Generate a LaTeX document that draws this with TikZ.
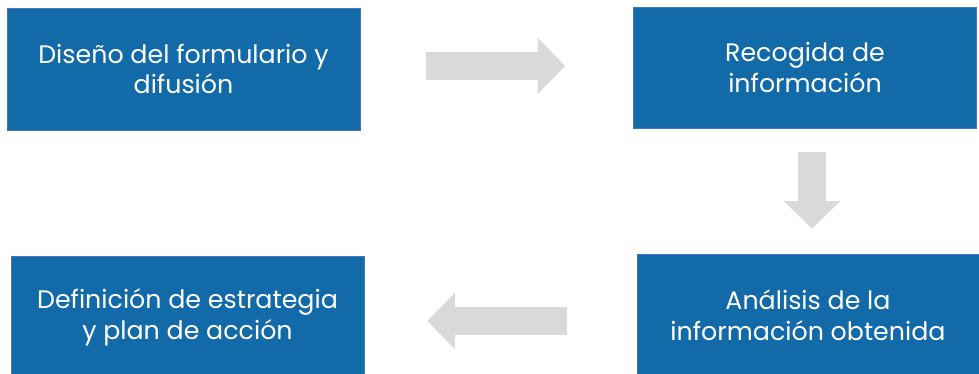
\documentclass[tikz,border=0pt]{standalone}
\usepackage{fontspec}
\setmainfont{Poppins}
\usetikzlibrary{positioning,arrows.meta,calc}
\definecolor{boxblue}{RGB}{19,106,168}
\definecolor{boxedge}{RGB}{68,114,196}
\definecolor{arrowgray}{RGB}{217,217,217}
\tikzset{
  stage/.style={fill=boxblue, draw=boxedge, line width=0.5pt, text=white,
    align=center, inner sep=0pt, font=\fontsize{14.4}{17.5}\selectfont},
  flow/.style={draw=arrowgray, line width=0.55cm,
    -{Triangle[length=0.55cm,width=1.1cm]}},
}

\begin{document}
\begin{tikzpicture}[x=0.02cm, y=-0.02cm]
\useasboundingbox (0,0) rectangle (979,374);

% the four steps
\node[stage, minimum width=7.06cm, minimum height=2.44cm] (diseno) at (183.5,69)
  {Diseño del formulario y\\difusión};
\node[stage, minimum width=6.86cm, minimum height=2.42cm] (recogida) at (805,67.5)
  {Recogida de\\información};
\node[stage, minimum width=6.84cm, minimum height=2.44cm] (analisis) at (808,315)
  {Análisis de la\\información obtenida};
\node[stage, minimum width=7.06cm, minimum height=2.44cm] (definicion) at (187.5,317)
  {Definición de estrategia\\y plan de acción};

% block arrows between them
\draw[flow] ($(diseno.east)+(66,-3)$) -- ($(recogida.west)+(-68,-1.5)$);
\draw[flow] ($(recogida.south)+(7,24)$) -- ($(analisis.north)+(4,-25)$);
\draw[flow] ($(analisis.west)+(-70,6)$) -- ($(definicion.east)+(63,4)$);
\end{tikzpicture}
\end{document}
